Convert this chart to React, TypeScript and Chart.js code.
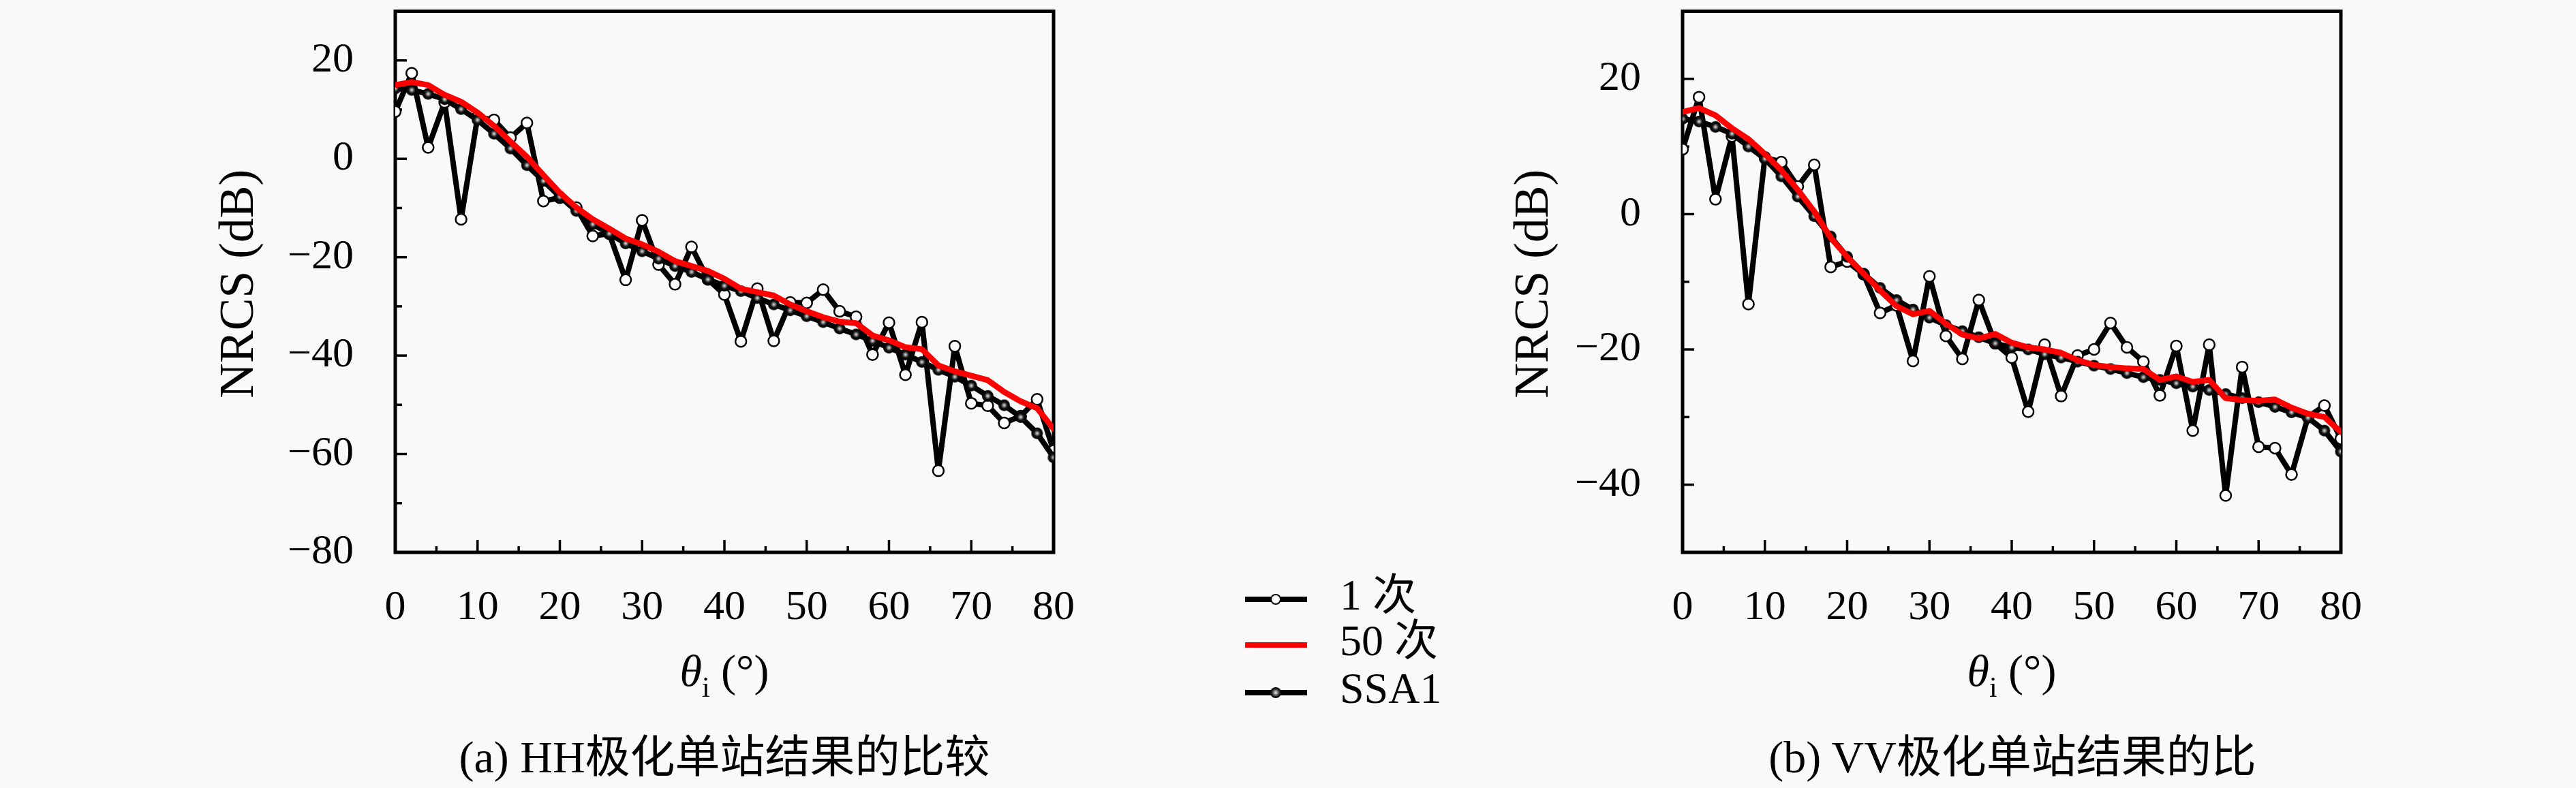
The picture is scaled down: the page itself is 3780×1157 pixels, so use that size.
import React, { useEffect, useRef } from 'react';
import { Chart, registerables } from 'chart.js';

Chart.register(...registerables);

// incidence angle (deg)
const angles = [0, 2, 4, 6, 8, 10, 12, 14, 16, 18, 20, 22, 24, 26, 28, 30, 32, 34, 36, 38, 40,
  42, 44, 46, 48, 50, 52, 54, 56, 58, 60, 62, 64, 66, 68, 70, 72, 74, 76, 78, 80];

// (a) HH
const hhOnce = [9.6, 17.4, 2.3, 11.5, -12.3, 8.5, 7.9, 4.3, 7.3, -8.6, -7.9, -9.9, -15.7, -15.2, -24.6, -12.5,
  -21.5, -25.5, -17.9, -24.5, -27.6, -37.1, -26.4, -37.0, -29.2, -29.3, -26.6, -31.0, -32.1, -39.8, -33.3,
  -43.9, -33.2, -63.4, -38.1, -49.7, -50.2, -53.7, -52.3, -48.9, -59.3];
const hhFifty = [15.0, 15.6, 15.0, 13.0, 11.6, 9.4, 6.7, 3.5, 0.4, -3.3, -6.9, -9.9, -12.3, -14.2, -16.2, -17.4,
  -18.9, -20.8, -21.8, -22.8, -24.4, -26.4, -27.1, -27.8, -29.6, -31.0, -32.2, -33.1, -33.4, -35.9, -36.9,
  -38.3, -38.7, -42.0, -43.2, -44.1, -45.0, -47.4, -49.3, -50.7, -54.9];
const hhSsa = [14.3, 14.0, 13.2, 12.1, 10.1, 7.9, 5.1, 2.1, -1.3, -4.5, -7.7, -10.6, -13.3, -15.2, -17.2, -18.8,
  -20.3, -21.8, -23.0, -24.5, -25.8, -26.9, -28.3, -29.6, -30.8, -32.0, -33.2, -34.5, -35.7, -37.0, -38.4,
  -39.8, -41.3, -42.9, -44.3, -46.1, -48.2, -50.1, -52.5, -55.8, -60.7];

// (b) VV
const vvOnce = [9.6, 17.3, 2.2, 11.5, -13.3, 8.4, 7.7, 4.1, 7.3, -7.8, -7.0, -8.9, -14.6, -13.5, -21.7, -9.2,
  -18.0, -21.4, -12.7, -19.1, -21.2, -29.2, -19.3, -26.9, -20.9, -20.0, -16.1, -19.7, -21.8, -26.8, -19.5,
  -32.0, -19.3, -41.6, -22.6, -34.4, -34.6, -38.5, -30.0, -28.3, -33.2];
const vvFifty = [15.1, 15.7, 14.6, 12.7, 11.1, 8.9, 6.5, 3.6, 0.4, -3.5, -6.3, -8.8, -11.3, -13.6, -14.8, -14.3,
  -16.2, -17.8, -18.4, -17.7, -19.0, -19.7, -20.0, -20.5, -21.6, -22.3, -22.6, -22.8, -22.9, -24.5, -24.0,
  -24.8, -24.5, -27.2, -27.5, -27.6, -27.4, -28.6, -29.5, -30.0, -32.2];
const vvSsa = [14.1, 13.7, 12.9, 11.9, 10.0, 8.2, 5.6, 2.6, -0.3, -3.3, -6.3, -8.8, -10.9, -12.7, -14.1, -15.3,
  -16.4, -17.3, -18.2, -19.1, -19.7, -20.0, -20.7, -21.2, -21.8, -22.4, -22.9, -23.5, -24.1, -24.5, -25.0,
  -25.5, -26.0, -26.6, -27.2, -27.8, -28.5, -29.3, -30.1, -32.0, -35.1];

const seriesNames = ['1 次', '50 次', 'SSA1'];
const captions = ['(a) HH极化单站结果的比较', '(b) VV极化单站结果的比'];
const yLabel = 'NRCS (dB)';

const SERIF = '"Liberation Serif", "Noto Sans CJK SC", serif';
const BG = '#f9f9f9';

// dark bead marker used by SSA1
function makeBead(r: number) {
  const c = document.createElement('canvas');
  c.width = r * 2 + 2;
  c.height = r * 2 + 2;
  const g = c.getContext('2d')!;
  const grad = g.createRadialGradient(r + 1, r + 1, 0, r + 1, r + 1, r);
  grad.addColorStop(0, '#e8e8e8');
  grad.addColorStop(0.3, '#707070');
  grad.addColorStop(0.55, '#111');
  grad.addColorStop(1, '#000');
  g.fillStyle = grad;
  g.beginPath();
  g.arc(r + 1, r + 1, r, 0, Math.PI * 2);
  g.fill();
  return c;
}

const minus = (v: number) => String(v).replace('-', '\u2212');

// box + inward ticks
const framePlugin = {
  id: 'frame',
  beforeDatasetsDraw(chart: any) {
    const { ctx, chartArea: a, scales } = chart;
    const ys = scales.y;
    const xs = scales.x;
    ctx.save();
    ctx.strokeStyle = '#000';
    ctx.lineWidth = 3.5;
    for (let v = ys.min; v <= ys.max; v += 10) {
      const py = ys.getPixelForValue(v);
      const len = v % 20 === 0 ? 17 : 10;
      ctx.beginPath();
      ctx.moveTo(a.left, py);
      ctx.lineTo(a.left + len, py);
      ctx.stroke();
    }
    for (let v = xs.min; v <= xs.max; v += 5) {
      const px = xs.getPixelForValue(v);
      const len = v % 10 === 0 ? 18 : 9;
      ctx.beginPath();
      ctx.moveTo(px, a.bottom);
      ctx.lineTo(px, a.bottom - len);
      ctx.stroke();
    }
    ctx.lineWidth = 5;
    ctx.strokeRect(a.left, a.top, a.right - a.left, a.bottom - a.top);
    ctx.restore();
  },
};

// x title: theta with subscript i
const xTitlePlugin = {
  id: 'xTitle',
  afterDraw(chart: any) {
    const { ctx, chartArea: a } = chart;
    const cy = 990;
    ctx.save();
    ctx.fillStyle = '#000';
    ctx.textBaseline = 'middle';
    const big = `66px ${SERIF}`;
    const italic = `italic 66px ${SERIF}`;
    const small = `42px ${SERIF}`;
    ctx.font = italic;
    const w1 = ctx.measureText('θ').width;
    ctx.font = small;
    const w2 = ctx.measureText('i').width;
    ctx.font = big;
    const w3 = ctx.measureText(' (°)').width;
    let x = (a.left + a.right) / 2 - (w1 + w2 + w3) / 2;
    ctx.textAlign = 'left';
    ctx.font = italic;
    ctx.fillText('θ', x, cy);
    x += w1;
    ctx.font = small;
    ctx.fillText('i', x, cy + 22);
    x += w2;
    ctx.font = big;
    ctx.fillText(' (°)', x, cy);
    ctx.restore();
  },
};

// y title, sized so it spans the same length as the printed one
const makeYTitle = (cx: number) => ({
  id: 'yTitle',
  afterDraw(chart: any) {
    const { ctx, chartArea: a } = chart;
    const target = 336;
    ctx.save();
    ctx.font = `70px ${SERIF}`;
    const w = ctx.measureText(yLabel).width;
    const size = Math.min(80, Math.max(60, (70 * target) / w));
    ctx.font = `${size}px ${SERIF}`;
    ctx.fillStyle = '#000';
    ctx.textAlign = 'center';
    ctx.textBaseline = 'middle';
    ctx.translate(cx, (a.top + a.bottom) / 2 + 3);
    ctx.rotate(-Math.PI / 2);
    ctx.fillText(yLabel, 0, 0);
    ctx.restore();
  },
});

const Panel: React.FC<{ left: number; once: number[]; fifty: number[]; ssa: number[]; yMin: number; yMax: number; titleX: number }> = (props) => {
  const chartRef = useRef<HTMLCanvasElement>(null);

  useEffect(() => {
    if (!chartRef.current) return;
    const ctx = chartRef.current.getContext('2d');
    if (!ctx) return;
    const pts = (arr: number[]) => angles.map((a, i) => ({ x: a, y: arr[i] }));
    const chart = new Chart(ctx, {
      type: 'line',
      data: {
        datasets: [
          {
            label: seriesNames[1],
            data: pts(props.fifty),
            borderColor: '#ff0000',
            borderWidth: 8.5,
            pointRadius: 0,
            order: 0,
          },
          {
            label: seriesNames[2],
            data: pts(props.ssa),
            borderColor: '#000',
            borderWidth: 8,
            pointStyle: makeBead(8.5) as any,
            pointRadius: 8.5,
            order: 1,
          },
          {
            label: seriesNames[0],
            data: pts(props.once),
            borderColor: '#000',
            borderWidth: 8,
            pointBackgroundColor: '#fff',
            pointBorderColor: '#000',
            pointBorderWidth: 2.5,
            pointRadius: 8,
            order: 2,
          },
        ],
      },
      options: {
        animation: false,
        responsive: false,
        devicePixelRatio: 1,
        layout: { padding: { top: 6, right: 54, bottom: 0, left: 0 } },
        elements: { line: { tension: 0, borderJoinStyle: 'round', borderCapStyle: 'round' } },
        plugins: { legend: { display: false }, tooltip: { enabled: false } },
        scales: {
          x: {
            type: 'linear',
            min: 0,
            max: 80,
            grid: { display: false },
            border: { display: false },
            ticks: {
              stepSize: 5,
              autoSkip: false,
              maxRotation: 0,
              padding: 37,
              color: '#000',
              font: { family: SERIF, size: 62 },
              callback: (v: any) => (Number(v) % 10 === 0 ? String(v) : ''),
            },
            afterFit: (s: any) => {
              s.height = 249;
              s.paddingLeft = 0;
              s.paddingRight = 0;
            },
          },
          y: {
            min: props.yMin,
            max: props.yMax,
            grid: { display: false },
            border: { display: false },
            ticks: {
              stepSize: 10,
              autoSkip: false,
              padding: 53,
              color: '#000',
              font: { family: SERIF, size: 62 },
              callback: (v: any) => (Number(v) % 20 === 0 ? minus(Number(v)) : ''),
            },
            afterFit: (s: any) => {
              s.width = 280;
              s.paddingTop = 0;
              s.paddingBottom = 0;
            },
          },
        },
      },
      plugins: [framePlugin, xTitlePlugin, makeYTitle(props.titleX)],
    } as any);

    return () => {
      chart.destroy();
    };
  }, [props.once, props.fifty, props.ssa, props.yMin, props.yMax, props.titleX]);

  return (
    <canvas
      ref={chartRef}
      width={1300}
      height={1060}
      style={{ position: 'absolute', left: props.left, top: 0, width: 1300, height: 1060 }}
    />
  );
};

const Caption: React.FC<{ cx: number; text: string }> = ({ cx, text }) => (
  <div
    style={{
      position: 'absolute',
      left: cx,
      top: 1112,
      transform: 'translate(-50%, -50%)',
      whiteSpace: 'nowrap',
      fontFamily: SERIF,
      fontSize: 66,
      color: '#000',
      lineHeight: 1,
    }}
  >
    {text}
  </div>
);

const legendRows = [
  { y: 880, color: '#000', marker: 'open' },
  { y: 947, color: '#ff0000', marker: 'none' },
  { y: 1017, color: '#000', marker: 'bead' },
];

const Legend: React.FC = () => (
  <>
    {legendRows.map((r, i) => (
      <React.Fragment key={i}>
        <div style={{ position: 'absolute', left: 1827, top: r.y - 4, width: 91, height: 8, background: r.color }} />
        {r.marker === 'open' && (
          <div
            style={{
              position: 'absolute', left: 1872 - 8, top: r.y - 8, width: 16, height: 16, boxSizing: 'border-box',
              borderRadius: '50%', border: '2.5px solid #000', background: '#fff',
            }}
          />
        )}
        {r.marker === 'bead' && (
          <div
            style={{
              position: 'absolute', left: 1872 - 8, top: r.y - 8, width: 16, height: 16, borderRadius: '50%',
              background: 'radial-gradient(circle, #e8e8e8 0%, #707070 30%, #111 55%, #000 100%)',
            }}
          />
        )}
        <div
          style={{
            position: 'absolute', left: 1966, top: r.y - 6, transform: 'translateY(-50%)', whiteSpace: 'nowrap',
            fontFamily: SERIF, fontSize: 64, lineHeight: 1, color: '#000',
          }}
        >
          {seriesNames[i]}
        </div>
      </React.Fragment>
    ))}
  </>
);

const App: React.FC = () => (
  <div style={{ position: 'absolute', left: 0, top: 0, width: 3780, height: 1157, background: BG, overflow: 'hidden' }}>
    <Panel left={300} once={hhOnce} fifty={hhFifty} ssa={hhSsa} yMin={-80} yMax={30} titleX={52} />
    <Panel left={2189} once={vvOnce} fifty={vvFifty} ssa={vvSsa} yMin={-50} yMax={30} titleX={63} />
    <Legend />
    <Caption cx={1063} text={captions[0]} />
    <Caption cx={2953} text={captions[1]} />
  </div>
);

export default App;
